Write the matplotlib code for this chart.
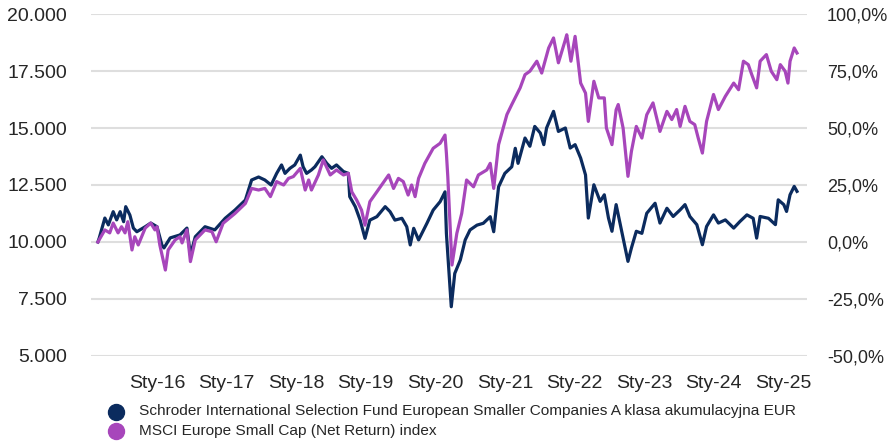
import matplotlib
matplotlib.use("Agg")
import matplotlib.pyplot as plt
from matplotlib.lines import Line2D
from matplotlib.ticker import FuncFormatter

plt.rcParams['font.family'] = ['Liberation Sans', 'DejaVu Sans']

fund_name = "Schroder International Selection Fund European Smaller Companies A klasa akumulacyjna EUR"
index_name = "MSCI Europe Small Cap (Net Return) index"

fund_t = [2015.15, 2015.17, 2015.25, 2015.30, 2015.37, 2015.42, 2015.47, 2015.52, 2015.55, 2015.61,
          2015.66, 2015.71, 2015.83, 2015.91, 2016.00, 2016.07, 2016.10, 2016.19, 2016.33, 2016.43,
          2016.48, 2016.55, 2016.69, 2016.83, 2016.98, 2017.12, 2017.27, 2017.36, 2017.46, 2017.55,
          2017.64, 2017.72, 2017.79, 2017.84, 2017.91, 2017.98, 2018.06, 2018.10, 2018.15, 2018.22,
          2018.27, 2018.37, 2018.44, 2018.51, 2018.58, 2018.68, 2018.75, 2018.77, 2018.85, 2018.92,
          2018.99, 2019.06, 2019.16, 2019.28, 2019.35, 2019.42, 2019.52, 2019.59, 2019.64, 2019.69,
          2019.76, 2019.88, 2019.97, 2020.07, 2020.14, 2020.16, 2020.23, 2020.28, 2020.36, 2020.43,
          2020.50, 2020.60, 2020.69, 2020.79, 2020.84, 2020.91, 2021.00, 2021.10, 2021.15, 2021.19,
          2021.29, 2021.36, 2021.43, 2021.51, 2021.56, 2021.60, 2021.70, 2021.77, 2021.87, 2021.94,
          2022.01, 2022.09, 2022.16, 2022.20, 2022.28, 2022.37, 2022.43, 2022.49, 2022.54, 2022.60,
          2022.66, 2022.73, 2022.77, 2022.82, 2022.89, 2022.97, 2023.04, 2023.16, 2023.23, 2023.33,
          2023.42, 2023.52, 2023.59, 2023.66, 2023.76, 2023.84, 2023.90, 2024.00, 2024.07, 2024.17,
          2024.29, 2024.38, 2024.48, 2024.57, 2024.62, 2024.67, 2024.79, 2024.89, 2024.93, 2025.01,
          2025.05, 2025.10, 2025.16, 2025.20]
fund_v = [10000, 10180, 11050, 10750, 11330, 10970, 11330, 10890, 11550, 11180,
          10610, 10450, 10670, 10830, 10670, 9870, 9740, 10180, 10310, 10610,
          9430, 10230, 10670, 10530, 11040, 11400, 11840, 12720, 12850, 12720,
          12500, 13010, 13380, 13010, 13230, 13380, 13810, 13300, 13010, 13160,
          13300, 13740, 13450, 13230, 13380, 13090, 13010, 11990, 11550, 10960,
          10160, 10960, 11110, 11550, 11330, 10960, 11040, 10670, 9870, 10600,
          10090, 10820, 11400, 11770, 12200, 10380, 7160, 8620, 9210, 10090,
          10530, 10740, 10820, 11110, 10450, 12420, 13010, 13300, 14110, 13450,
          14560, 14200, 15070, 14780, 14270, 15000, 15730, 14850, 15000, 14120,
          14270, 13680, 12940, 11050, 12510, 11780, 12070, 11050, 10470, 11640,
          10760, 9740, 9150, 9740, 10470, 10380, 11260, 11700, 10830, 11480,
          11120, 11410, 11640, 11120, 10760, 9880, 10680, 11190, 10830, 10970,
          10610, 10900, 11190, 11040, 10170, 11120, 11040, 10760, 11850, 11640,
          11340, 12070, 12440, 12220]

index_t = [2015.15, 2015.25, 2015.32, 2015.37, 2015.44, 2015.49, 2015.54, 2015.58, 2015.64, 2015.68,
           2015.73, 2015.83, 2015.91, 2015.97, 2016.00, 2016.04, 2016.12, 2016.16, 2016.26, 2016.33,
           2016.36, 2016.43, 2016.48, 2016.55, 2016.69, 2016.79, 2016.85, 2016.95, 2017.12, 2017.27,
           2017.36, 2017.46, 2017.55, 2017.63, 2017.72, 2017.82, 2017.89, 2017.96, 2018.06, 2018.13,
           2018.18, 2018.22, 2018.32, 2018.39, 2018.49, 2018.58, 2018.68, 2018.75, 2018.80, 2018.87,
           2018.94, 2018.99, 2019.06, 2019.16, 2019.33, 2019.40, 2019.47, 2019.54, 2019.61, 2019.66,
           2019.71, 2019.76, 2019.85, 2019.97, 2020.07, 2020.14, 2020.16, 2020.18, 2020.24, 2020.31,
           2020.38, 2020.45, 2020.55, 2020.62, 2020.74, 2020.79, 2020.84, 2020.91, 2021.03, 2021.10,
           2021.22, 2021.29, 2021.36, 2021.46, 2021.53, 2021.63, 2021.70, 2021.77, 2021.87, 2021.89,
           2021.95, 2022.01, 2022.09, 2022.16, 2022.20, 2022.28, 2022.35, 2022.43, 2022.46, 2022.54,
           2022.60, 2022.63, 2022.70, 2022.77, 2022.82, 2022.89, 2022.97, 2023.04, 2023.13, 2023.23,
           2023.33, 2023.40, 2023.47, 2023.52, 2023.59, 2023.66, 2023.73, 2023.78, 2023.84, 2023.90,
           2024.00, 2024.07, 2024.17, 2024.29, 2024.36, 2024.43, 2024.50, 2024.55, 2024.62, 2024.67,
           2024.76, 2024.83, 2024.91, 2024.96, 2025.03, 2025.07, 2025.10, 2025.16, 2025.20]
index_v = [10000, 10530, 10400, 10830, 10400, 10670, 10400, 10890, 9650, 10230,
           9870, 10610, 10830, 10530, 10670, 9870, 8770, 9650, 10090, 10230,
           9960, 10530, 9140, 10090, 10530, 10450, 10010, 10820, 11250, 11690,
           12350, 12280, 12350, 11990, 12650, 12500, 12790, 12870, 13230, 12280,
           12720, 12280, 12940, 13600, 12940, 13160, 12940, 13010, 12200, 11840,
           11400, 10740, 11770, 12200, 12940, 12350, 12790, 12650, 12060, 12500,
           11990, 12790, 13450, 14110, 14330, 14690, 13890, 12870, 8990, 10380,
           11250, 12720, 12420, 12940, 13160, 13450, 12350, 14270, 15590, 16030,
           16760, 17340, 17490, 17930, 17410, 18510, 18950, 17860, 18870, 19090,
           17930, 19020, 16970, 16530, 15290, 17050, 16320, 16320, 15000, 14270,
           15800, 16030, 15000, 12880, 13980, 15070, 14560, 15580, 16100, 14850,
           15730, 15370, 15810, 15070, 15950, 15290, 15150, 14560, 13900, 15290,
           16470, 15810, 16390, 16970, 16680, 17930, 17780, 17340, 16760, 17930,
           18220, 17490, 17120, 17780, 17490, 16970, 17930, 18510, 18290]

year_ticks = list(range(2016, 2026))
year_labels = ["Sty-16", "Sty-17", "Sty-18", "Sty-19", "Sty-20", "Sty-21", "Sty-22", "Sty-23", "Sty-24", "Sty-25"]
left_ticks = [5000, 7500, 10000, 12500, 15000, 17500, 20000]
right_ticks = [-50, -25, 0, 25, 50, 75, 100]

fund_color = "#0b2b5e"
index_color = "#a746bb"
text_color = "#262626"

fig = plt.figure(figsize=(8.93, 4.42), dpi=100)
ax = fig.add_axes([0.1016, 0.1946, 0.8018, 0.7737])
ax.set_xlim(2015.047, 2025.34)
ax.set_ylim(5000, 20000)
ax.set_yticks(left_ticks)
ax.yaxis.set_major_formatter(FuncFormatter(lambda v, p: f"{int(v):,}".replace(",", ".")))
ax.set_xticks(year_ticks)
ax.set_xticklabels(year_labels)
ax.grid(axis='y', color='#dedede', linewidth=1.5)
ax.set_axisbelow(True)
for s in ax.spines.values():
    s.set_visible(False)
ax.tick_params(axis='both', length=0, labelsize=14, colors=text_color)
ax.tick_params(axis='y', pad=17)
ax.tick_params(axis='x', pad=14)

ax.plot(index_t, index_v, color=index_color, linewidth=2.3, zorder=3, solid_joinstyle='round')
ax.plot(fund_t, fund_v, color=fund_color, linewidth=2.3, zorder=2, solid_joinstyle='round')

ax2 = ax.twinx()
ax2.set_ylim(-50, 100)
ax2.set_yticks(right_ticks)
ax2.yaxis.set_major_formatter(FuncFormatter(lambda v, p: f"{v:.1f}%".replace(".", ",")))
for s in ax2.spines.values():
    s.set_visible(False)
ax2.tick_params(axis='y', length=0, labelsize=13, colors=text_color, pad=14.5)

# legend
for i, (name, col) in enumerate([(fund_name, fund_color), (index_name, index_color)]):
    yy = 1 - (411.5 + 19 * i) / 442
    fig.add_artist(Line2D([116 / 893], [yy], marker='o', markersize=11.5, color=col,
                          linestyle='none', transform=fig.transFigure))
    fig.text(139 / 893, yy, name, fontsize=11.1, va='center', ha='left', color=text_color)

fig.savefig("out.png", dpi=100)
